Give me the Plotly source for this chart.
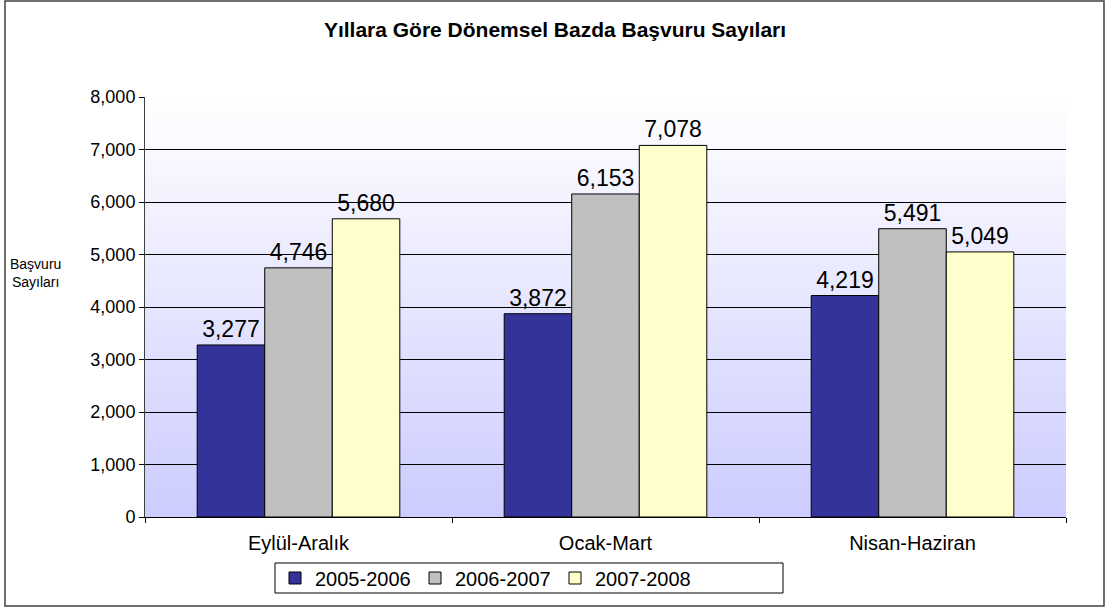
import plotly.graph_objects as go

categories = ["Eylül-Aralık", "Ocak-Mart", "Nisan-Haziran"]
series_names = ["2005-2006", "2006-2007", "2007-2008"]
values_2005_2006 = [3277, 3872, 4219]
values_2006_2007 = [4746, 6153, 5491]
values_2007_2008 = [5680, 7078, 5049]
series_colors = ["#333399", "#C0C0C0", "#FFFFCC"]
y_ticks = [0, 1000, 2000, 3000, 4000, 5000, 6000, 7000, 8000]

FONT = "Liberation Sans, Arial, sans-serif"
PW, PH, PL, PB = 921, 420, 145, 517  # plot area geometry (pixels)


def px_x(x):
    return (x - PL) / PW


def px_y(y):
    return (PB - y) / PH


fig = go.Figure()
for name, vals, col in zip(series_names, [values_2005_2006, values_2006_2007, values_2007_2008], series_colors):
    fig.add_trace(go.Bar(
        x=categories, y=vals, name=name,
        marker=dict(color=col, line=dict(color="black", width=1)),
        text=vals, texttemplate="%{y:,d}", textposition="outside",
        textfont=dict(family=FONT, size=23, color="black"),
        cliponaxis=False,
    ))

# gradient plot background via stripes
shapes = []
n = 80
for i in range(n):
    t0 = i / n
    t1 = (i + 1) / n
    f = 1 - (t0 + t1) / 2  # 1 at bottom, 0 at top
    r = int(round(255 - 51 * f))
    g = int(round(255 - 51 * f))
    shapes.append(dict(type="rect", xref="paper", yref="paper", x0=0, x1=1, y0=t0, y1=t1 + 0.002,
                       fillcolor=f"rgb({r},{g},255)", line=dict(width=0), layer="below"))
# outer border
shapes.append(dict(type="rect", xref="paper", yref="paper",
                   x0=px_x(5), x1=px_x(1104), y0=px_y(606), y1=px_y(1),
                   line=dict(color="#404040", width=1.5), fillcolor="rgba(0,0,0,0)", layer="above"))
# legend frame
shapes.append(dict(type="rect", xref="paper", yref="paper",
                   x0=px_x(275), x1=px_x(783), y0=px_y(593), y1=px_y(563),
                   line=dict(color="black", width=1), fillcolor="rgba(0,0,0,0)", layer="above"))

fig.update_layout(
    width=1110, height=612,
    margin=dict(l=145, r=44, t=97, b=95, autoexpand=False),
    paper_bgcolor="white", plot_bgcolor="rgba(0,0,0,0)",
    barmode="group", bargap=0.34, bargroupgap=0,
    font=dict(family=FONT, size=16, color="black"),
    title=dict(text="<b>Yıllara Göre Dönemsel Bazda Başvuru Sayıları</b>",
               x=0.5, xanchor="center", y=1 - 30 / 612, yanchor="middle",
               font=dict(family=FONT, size=21, color="black")),
    shapes=shapes,
    showlegend=True,
    legend=dict(orientation="h", x=px_x(275), xanchor="left",
                y=px_y(578), yanchor="middle",
                borderwidth=0, bgcolor="rgba(0,0,0,0)",
                font=dict(family=FONT, size=20), entrywidth=95, entrywidthmode="pixels",
                itemwidth=30, traceorder="normal"),
    annotations=[dict(text="Başvuru<br>Sayıları", xref="paper", yref="paper",
                      x=px_x(35), y=px_y(273), xanchor="center", yanchor="middle",
                      showarrow=False, font=dict(family=FONT, size=14, color="black"), align="center")],
)

fig.update_xaxes(type="category", showline=True, linecolor="black", linewidth=1,
                 ticks="outside", tickson="boundaries", ticklen=5, tickcolor="black",
                 ticklabelstandoff=8,
                 tickfont=dict(family=FONT, size=20), showgrid=False, zeroline=False)
fig.update_yaxes(range=[0, 8000], tickvals=y_ticks, tickformat=",d",
                 showline=True, linecolor="#404040", linewidth=1,
                 ticks="outside", ticklen=5, tickcolor="black",
                 showgrid=True, gridcolor="black", gridwidth=1, zeroline=False,
                 tickfont=dict(family=FONT, size=18))

fig.write_html("out.html")
